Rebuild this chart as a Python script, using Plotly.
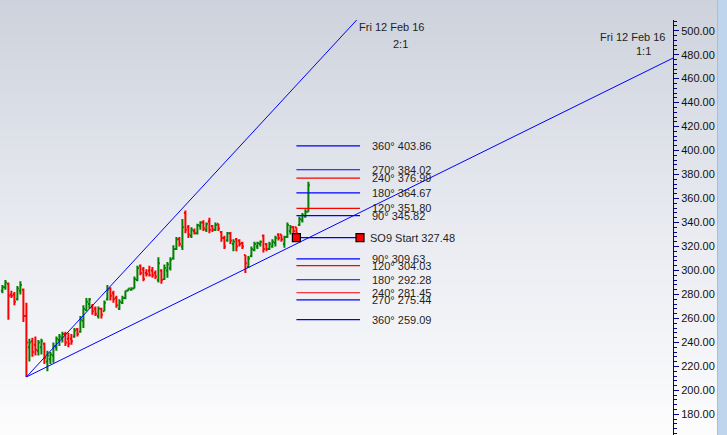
import plotly.graph_objects as go

# ---- daily bars (open, high, low, close) ----
opens = [283, 286, 289, 280, 280, 276, 283, 284, 262, 236, 241, 238, 233, 236, 239, 224, 226, 229, 236, 242,
         244, 247, 243, 243, 245, 251, 249, 258, 267, 272, 270, 268, 262, 268, 266, 276, 285, 281, 277, 268,
         273, 277, 283, 284, 285, 292, 304, 301, 298, 300, 300, 298, 292, 300, 293, 300, 302, 310, 318, 326,
         320, 348, 336, 329, 333, 331, 337, 340, 334, 341, 337, 334, 339, 332, 327, 325, 331, 322, 326, 325,
         323, 313, 303, 312, 317, 320, 322, 329, 322, 318, 320, 323, 330, 330, 322, 328, 333, 336, 336, 338,
         342, 345, 349]
highs = [288, 292, 290, 283, 282, 287, 291, 285, 273, 243, 244, 245, 242, 243, 240, 233, 232, 240, 245, 247,
         249, 249, 248, 247, 252, 252, 262, 271, 277, 277, 272, 270, 270, 269, 275, 288, 286, 283, 279, 276,
         279, 283, 285, 286, 295, 304, 305, 303, 301, 304, 303, 300, 311, 301, 305, 307, 311, 321, 328, 328,
         343, 350, 338, 336, 335, 339, 341, 342, 340, 344, 338, 340, 339, 333, 329, 332, 332, 326, 327, 326,
         324, 313, 312, 320, 324, 324, 325, 330, 323, 324, 326, 329, 331, 330, 329, 340, 338, 337, 336, 345,
         348, 351, 374]
lows = [281, 284, 259, 277, 271, 275, 280, 257, 211.2, 224, 228, 229, 229, 230, 222, 216, 222, 223, 233, 237,
        240, 237, 236, 238, 244, 245, 248, 252, 266, 268, 263, 262, 260, 260, 266, 275, 275, 273, 269, 267,
        272, 276, 283, 283, 285, 291, 296, 291, 295, 295, 294, 293, 290, 289, 292, 294, 300, 309, 317, 320,
        317, 331, 327, 327, 330, 330, 334, 333, 332, 331, 332, 333, 333, 324, 318, 324, 322, 316, 316, 320,
        318, 298, 302, 311, 316, 318, 320, 315, 316, 317, 319, 320, 325, 324, 319, 327, 330, 330, 327.48, 337,
        340, 344, 349]
closes = [286, 290, 279, 279, 274, 285, 288, 262, 240, 240, 232, 234, 240, 241, 227, 229, 230, 237, 243, 245,
          247, 240, 239, 241, 250, 247, 259, 268, 274, 276, 266, 264, 268, 263, 273, 284, 279, 276, 271, 274,
          277, 283, 285, 285, 293, 302, 298, 293, 297, 296, 296, 295, 306, 292, 302, 305, 309, 318, 326, 322,
          336, 334, 330, 334, 331, 338, 340, 335, 339, 334, 334, 338, 335, 327, 320, 331, 325, 324, 320, 322,
          320, 306, 310, 318, 322, 323, 324, 318, 318, 322, 324, 327, 327, 326, 328, 338, 336, 333, 331, 343,
          346, 349, 371]
bar_idx = list(range(len(opens)))

# ---- Gann fan from the swing low ----
fan_start_bar = 8
fan_start_price = 211.2
fan_names = ["2:1", "1:1"]
fan_slopes = [2.704, 1.2338]          # price per bar
fan_end_date = "Fri 12 Feb 16"

# ---- Square of Nine levels ----
so9_start_bar = 98
so9_end_bar = 119.2
so9_start = 327.48
so9_angles = ["360°", "270°", "240°", "180°", "120°", "90°",
              "90°", "120°", "180°", "240°", "270°", "360°"]
so9_values = [403.86, 384.02, 376.99, 364.67, 351.80, 345.82,
              309.63, 304.03, 292.28, 281.45, 275.44, 259.09]

# ---- axes ----
x_min, x_max = -0.8, -0.8 + 673 / 3.0
y_min, y_max = 162.8, 508.9
tick_step, minor_step = 20, 4

BLUE, RED, GREEN = "#0000ff", "#ff0000", "#008000"
AXIS = "#00008b"
TXT = "#1e1e1e"
FONT = "Liberation Sans, Arial, sans-serif"
angle_color = {"90°": BLUE, "120°": RED, "180°": BLUE, "240°": RED, "270°": BLUE, "360°": BLUE}

fig = go.Figure()

fig.add_trace(go.Ohlc(
    x=bar_idx, open=opens, high=highs, low=lows, close=closes,
    increasing=dict(line=dict(color=GREEN, width=2)),
    decreasing=dict(line=dict(color=RED, width=2)),
    tickwidth=0.5, showlegend=False, hoverinfo="skip"))

# fan lines run far enough to leave the plot; the plot area clips them
far_bar = 400
for name, slope in zip(fan_names, fan_slopes):
    fig.add_trace(go.Scatter(
        x=[fan_start_bar, far_bar],
        y=[fan_start_price, fan_start_price + slope * (far_bar - fan_start_bar)],
        mode="lines", line=dict(color=BLUE, width=1),
        showlegend=False, hoverinfo="skip"))

# level lines
for ang, val in zip(so9_angles, so9_values):
    fig.add_trace(go.Scatter(
        x=[so9_start_bar, so9_end_bar], y=[val, val], mode="lines",
        line=dict(color=angle_color[ang], width=1.2),
        showlegend=False, hoverinfo="skip"))
    fig.add_annotation(x=so9_end_bar, y=val, text=f"{ang} {val:.2f}",
                       xanchor="left", yanchor="middle", xshift=10, showarrow=False,
                       font=dict(family=FONT, size=11, color=TXT))

fig.add_trace(go.Scatter(
    x=[so9_start_bar, so9_end_bar], y=[so9_start, so9_start], mode="lines+markers",
    line=dict(color=BLUE, width=1.2),
    marker=dict(symbol="square", size=8, color=RED, line=dict(color="black", width=1.2)),
    showlegend=False, hoverinfo="skip"))
fig.add_annotation(x=so9_end_bar, y=so9_start, text=f"SO9 Start {so9_start:.2f}",
                   xanchor="left", yanchor="middle", xshift=8, showarrow=False,
                   font=dict(family=FONT, size=11, color=TXT))

# fan labels at the point where each line leaves the chart
s21 = fan_slopes[0]
exit_21 = fan_start_bar + (y_max - fan_start_price) / s21
fig.add_annotation(x=exit_21, y=1, yref="paper", text=fan_end_date, xanchor="left",
                   yanchor="middle", yshift=-7, showarrow=False,
                   font=dict(family=FONT, size=11, color=TXT))
fig.add_annotation(x=exit_21, y=1, yref="paper", text=fan_names[0], xanchor="left",
                   yanchor="middle", xshift=34, yshift=-24, showarrow=False,
                   font=dict(family=FONT, size=11, color=TXT))
s11 = fan_slopes[1]
exit_11 = fan_start_price + s11 * (x_max - fan_start_bar)
fig.add_annotation(x=1, xref="paper", y=exit_11, text=fan_end_date, xanchor="right",
                   yanchor="middle", xshift=-6, yshift=21, showarrow=False,
                   font=dict(family=FONT, size=11, color=TXT))
fig.add_annotation(x=1, xref="paper", y=exit_11, text=fan_names[1], xanchor="right",
                   yanchor="middle", xshift=-20, yshift=7, showarrow=False,
                   font=dict(family=FONT, size=11, color=TXT))

# background: vertical gradient across the whole window
W, H, MR, MT = 727, 435, 54, 20
pw, ph = W - MR, H - MT
x_right = W / pw
y_top = H / ph
top_rgb, mid_rgb, bot_rgb = (205, 210, 220), (232, 234, 240), (252, 252, 253)
n = 87
shapes = []
for k in range(n):
    t = k / (n - 1)
    if t < 0.5:
        a, b, u = top_rgb, mid_rgb, t / 0.5
    else:
        a, b, u = mid_rgb, bot_rgb, (t - 0.5) / 0.5
    c = tuple(round(a[j] + (b[j] - a[j]) * u) for j in range(3))
    y1 = y_top - k * y_top / n
    y0 = y_top - (k + 1) * y_top / n
    shapes.append(dict(type="rect", xref="paper", yref="paper", x0=0, x1=x_right,
                       y0=y0 - 0.002, y1=y1, fillcolor=f"rgb{c}", line_width=0, layer="below"))
# scroll strip on the right edge
shapes.append(dict(type="rect", xref="paper", yref="paper", x0=717 / pw, x1=x_right,
                   y0=-0.01, y1=y_top, fillcolor="#bfd5ee", line_width=0, layer="below"))
shapes.append(dict(type="line", xref="paper", yref="paper", x0=717.5 / pw, x1=717.5 / pw,
                   y0=-0.01, y1=y_top, line=dict(color="#a6bfdc", width=1), layer="below"))

fig.update_layout(
    width=W, height=H,
    margin=dict(l=0, r=MR, t=MT, b=0, pad=0),
    paper_bgcolor="white", plot_bgcolor="rgba(0,0,0,0)",
    shapes=shapes, showlegend=False,
    xaxis=dict(range=[x_min, x_max], visible=False, rangeslider=dict(visible=False)),
    yaxis=dict(range=[y_min, y_max], side="right", showgrid=False, zeroline=False,
               showline=True, linecolor=AXIS, linewidth=1,
               tickmode="linear", tick0=0, dtick=tick_step, tickformat=".2f",
               ticks="outside", ticklen=5, tickcolor=AXIS, tickwidth=1,
               minor=dict(dtick=minor_step, ticks="outside", ticklen=3, tickcolor=AXIS),
               tickfont=dict(family=FONT, size=11, color="#111111")),
)

fig.write_html("out.html")
